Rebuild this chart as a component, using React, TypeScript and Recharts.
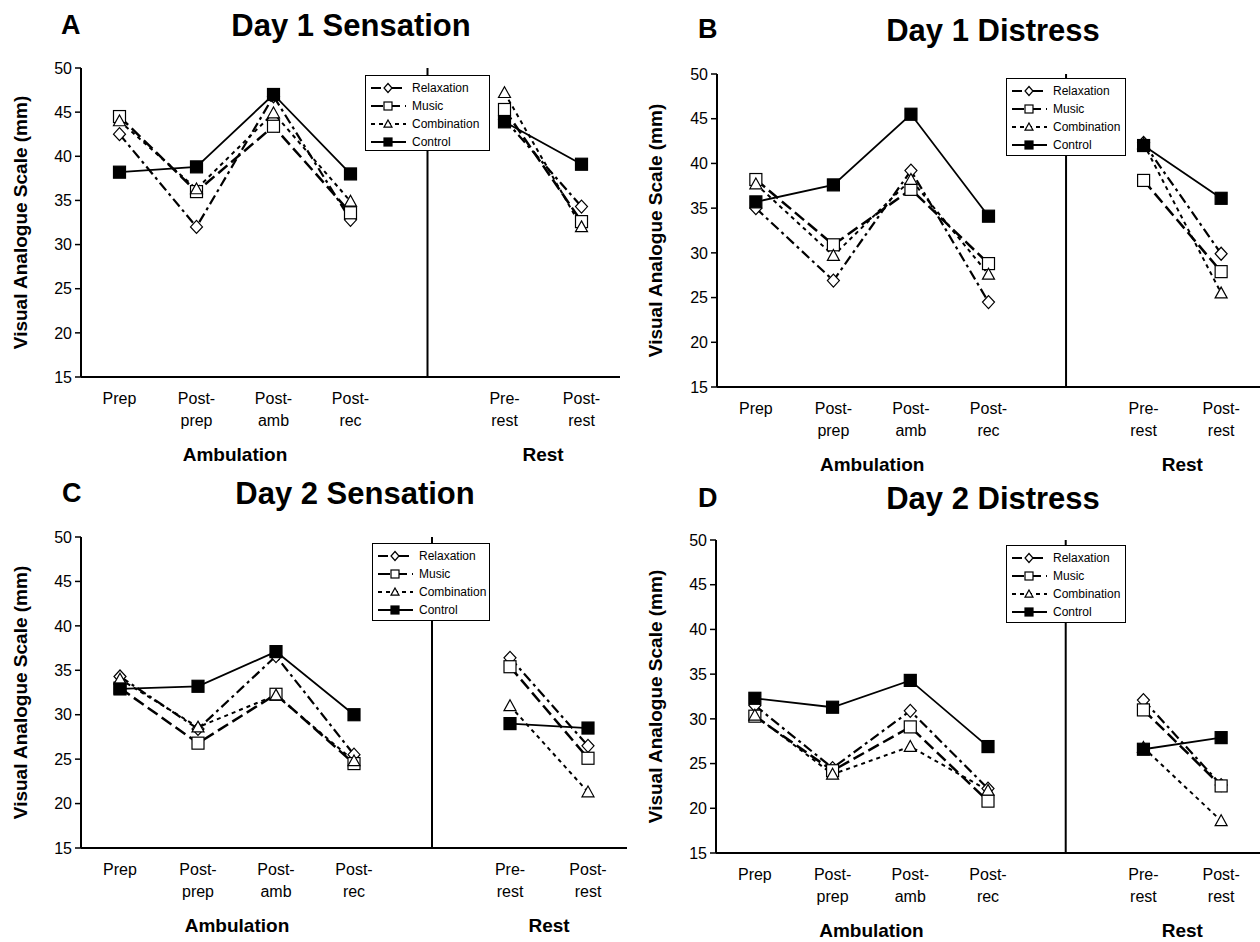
import React from "react";
import {
  LineChart,
  Line,
  XAxis,
  YAxis,
  ReferenceLine,
  ReferenceArea,
  Legend,
} from "recharts";

const FONT = '"Liberation Sans", Arial, Helvetica, sans-serif';

// x categories; "gap" is the empty slot where the Ambulation / Rest divider sits
const categories = ["Prep", "Post-prep", "Post-amb", "Post-rec", "gap", "Pre-rest", "Post-rest"];
const tickLabels = [["Prep"], ["Post-", "prep"], ["Post-", "amb"], ["Post-", "rec"], [], ["Pre-", "rest"], ["Post-", "rest"]];
const yTicks = [15, 20, 25, 30, 35, 40, 45, 50];
const seriesNames = ["Relaxation", "Music", "Combination", "Control"];

// Day 1 Sensation
const d1SensRelaxation = [42.5, 32.0, 46.8, 32.8, null, 44.2, 34.3];
const d1SensMusic = [44.5, 36.0, 43.4, 33.6, null, 45.3, 32.6];
const d1SensCombination = [44.0, 36.3, 44.9, 34.9, null, 47.2, 32.0];
const d1SensControl = [38.2, 38.8, 47.0, 38.0, null, 43.9, 39.1];

// Day 1 Distress
const d1DistRelaxation = [35.0, 26.9, 39.2, 24.5, null, 42.3, 29.9];
const d1DistMusic = [38.2, 30.9, 37.1, 28.8, null, 38.1, 27.9];
const d1DistCombination = [37.7, 29.7, 38.2, 27.6, null, 42.2, 25.5];
const d1DistControl = [35.7, 37.6, 45.5, 34.1, null, 42.0, 36.1];

// Day 2 Sensation
const d2SensRelaxation = [34.3, 28.4, 36.6, 25.5, null, 36.4, 26.5];
const d2SensMusic = [33.0, 26.8, 32.3, 24.5, null, 35.4, 25.1];
const d2SensCombination = [34.0, 28.6, 32.2, 24.8, null, 31.0, 21.3];
const d2SensControl = [32.9, 33.2, 37.1, 30.0, null, 29.0, 28.5];

// Day 2 Distress
const d2DistRelaxation = [31.5, 24.5, 30.9, 22.2, null, 32.1, 22.6];
const d2DistMusic = [30.3, 24.2, 29.1, 20.8, null, 31.0, 22.5];
const d2DistCombination = [30.4, 23.8, 26.9, 22.0, null, 26.8, 18.6];
const d2DistControl = [32.3, 31.3, 34.3, 26.9, null, 26.6, 27.9];

const seriesStyle = [
  { shape: "diamond", dash: "10 4 3 4", width: 2.2 },
  { shape: "square", dash: "12 5", width: 2.5 },
  { shape: "triangle", dash: "4 4", width: 2 },
  { shape: "filled", dash: undefined, width: 1.8 },
];

function buildRows(series: (number | null)[][]) {
  return categories.map((cat, i) => {
    const row: Record<string, any> = { cat };
    seriesNames.forEach((name, s) => (row[name] = series[s][i]));
    return row;
  });
}

// listed bottom row first so the top panels paint over any overlap
const panels = [
  {
    letter: "C",
    title: "Day 2 Sensation",
    rows: buildRows([d2SensRelaxation, d2SensMusic, d2SensCombination, d2SensControl]),
    left: 0, top: 470, plotX: 81, plotY: 537, plotW: 546, plotH: 311,
    legend: { x: 372, y: 73, w: 118, h: 78 },
    yLabelX: 20,
    letterPos: { x: 62, base: 503 },
    titlePos: { cx: 355, base: 504 },
  },
  {
    letter: "D",
    title: "Day 2 Distress",
    rows: buildRows([d2DistRelaxation, d2DistMusic, d2DistCombination, d2DistControl]),
    left: 630, top: 470, plotX: 716, plotY: 540, plotW: 544, plotH: 313,
    legend: { x: 376, y: 75, w: 120, h: 78 },
    yLabelX: 25,
    letterPos: { x: 698, base: 508 },
    titlePos: { cx: 993, base: 509 },
  },
  {
    letter: "A",
    title: "Day 1 Sensation",
    rows: buildRows([d1SensRelaxation, d1SensMusic, d1SensCombination, d1SensControl]),
    left: 0, top: 0, plotX: 81, plotY: 68, plotW: 539, plotH: 309,
    legend: { x: 365, y: 75, w: 125, h: 76 },
    yLabelX: 20,
    letterPos: { x: 61, base: 35 },
    titlePos: { cx: 351, base: 36 },
  },
  {
    letter: "B",
    title: "Day 1 Distress",
    rows: buildRows([d1DistRelaxation, d1DistMusic, d1DistCombination, d1DistControl]),
    left: 630, top: 0, plotX: 717, plotY: 74, plotW: 544, plotH: 313,
    legend: { x: 376, y: 78, w: 120, h: 78 },
    yLabelX: 25,
    letterPos: { x: 698, base: 39 },
    titlePos: { cx: 993, base: 41 },
  },
];

const CHART_W = 630;
const CHART_H = 480;

function Marker({ cx, cy, shape, size }: any) {
  if (cx == null || cy == null || Number.isNaN(cx) || Number.isNaN(cy)) return null;
  const s = size / 2;
  if (shape === "diamond") {
    return (
      <polygon
        points={`${cx},${cy - s - 0.5} ${cx + s},${cy} ${cx},${cy + s + 0.5} ${cx - s},${cy}`}
        fill="#fff"
        stroke="#000"
        strokeWidth={1.2}
      />
    );
  }
  if (shape === "triangle") {
    return (
      <polygon
        points={`${cx},${cy - s} ${cx + s},${cy + s * 0.8} ${cx - s},${cy + s * 0.8}`}
        fill="#fff"
        stroke="#000"
        strokeWidth={1.2}
      />
    );
  }
  return (
    <rect
      x={cx - s}
      y={cy - s}
      width={size}
      height={size}
      fill={shape === "filled" ? "#000" : "#fff"}
      stroke="#000"
      strokeWidth={1.2}
    />
  );
}

function XTick({ x, y, payload }: any) {
  const idx = categories.indexOf(payload.value);
  const lines = tickLabels[idx] || [];
  if (!lines.length) return <g />;
  return (
    <text x={x} y={y} textAnchor="middle" fontFamily={FONT} fontSize={16} fill="#000">
      {lines.map((l, i) => (
        <tspan key={i} x={x} dy={i === 0 ? 27 : 22}>
          {l}
        </tspan>
      ))}
    </text>
  );
}

function LegendBox({ box }: any) {
  return (
    <div
      style={{
        width: box.w,
        height: box.h,
        boxSizing: "border-box",
        background: "#fff",
        border: "1.5px solid #000",
        padding: "3px 0 0 4px",
        fontFamily: FONT,
        fontSize: 12,
        color: "#000",
      }}
    >
      {seriesNames.map((name, i) => (
        <div key={name} style={{ display: "flex", alignItems: "center", height: 18 }}>
          <svg width={38} height={14}>
            <line
              x1={1}
              x2={36}
              y1={7}
              y2={7}
              stroke="#000"
              strokeWidth={2}
              strokeDasharray={seriesStyle[i].dash}
            />
            <Marker cx={18} cy={7} shape={seriesStyle[i].shape} size={8} />
          </svg>
          <span style={{ marginLeft: 4 }}>{name}</span>
        </div>
      ))}
    </div>
  );
}

function Panel({ p }: any) {
  const marginTop = p.plotY - p.top;
  const yAxisW = p.plotX - p.left;
  const marginRight = Math.max(0, CHART_W - yAxisW - p.plotW);
  const xAxisH = CHART_H - marginTop - p.plotH;
  const pad = p.plotW / 14;
  const labelStyle = { fontSize: 19, fontWeight: "bold", fill: "#000", fontFamily: FONT };

  return (
    <div style={{ position: "absolute", left: p.left, top: p.top, width: CHART_W, height: CHART_H }}>
      <LineChart
        width={CHART_W}
        height={CHART_H}
        data={p.rows}
        margin={{ top: marginTop, right: marginRight, bottom: 0, left: 0 }}
      >
        <XAxis
          dataKey="cat"
          interval={0}
          height={xAxisH}
          padding={{ left: pad, right: pad }}
          tickSize={0}
          tickMargin={0}
          tickLine={false}
          axisLine={{ stroke: "#000", strokeWidth: 2 }}
          tick={<XTick />}
        />
        <XAxis
          xAxisId="top"
          orientation="top"
          dataKey="cat"
          height={0}
          padding={{ left: pad, right: pad }}
          tick={false}
          tickLine={false}
          axisLine={{ stroke: "#000", strokeWidth: 2 }}
        />
        <YAxis
          type="number"
          domain={[15, 50]}
          ticks={yTicks}
          width={yAxisW}
          interval={0}
          tickSize={6}
          tickMargin={3}
          tickLine={{ stroke: "#000", strokeWidth: 1.5 }}
          axisLine={{ stroke: "#000", strokeWidth: 2 }}
          tick={{ fill: "#000", fontSize: 16, fontFamily: FONT }}
          label={{
            value: "Visual Analogue Scale (mm)",
            angle: -90,
            position: "insideLeft",
            offset: p.yLabelX,
            style: { textAnchor: "middle" },
            ...labelStyle,
          }}
        />
        <YAxis
          yAxisId="right"
          orientation="right"
          type="number"
          domain={[15, 50]}
          width={0}
          tick={false}
          tickLine={false}
          axisLine={{ stroke: "#000", strokeWidth: 2 }}
        />
        <ReferenceArea
          x1="Prep"
          x2="Post-rec"
          ifOverflow="visible"
          fill="none"
          fillOpacity={0}
          stroke="none"
          label={{ value: "Ambulation", position: "bottom", offset: 71, ...labelStyle }}
        />
        <ReferenceArea
          x1="Pre-rest"
          x2="Post-rest"
          ifOverflow="visible"
          fill="none"
          fillOpacity={0}
          stroke="none"
          label={{ value: "Rest", position: "bottom", offset: 71, ...labelStyle }}
        />
        <ReferenceLine x="gap" stroke="#000" strokeWidth={2} />
        {seriesNames.map((name, i) => (
          <Line
            key={name}
            dataKey={name}
            stroke="#000"
            strokeWidth={seriesStyle[i].width}
            strokeDasharray={seriesStyle[i].dash}
            isAnimationActive={false}
            activeDot={false}
            dot={(d: any) => (
              <Marker
                key={`${name}-${d.index}`}
                cx={d.cx}
                cy={d.cy}
                shape={seriesStyle[i].shape}
                size={12}
              />
            )}
          />
        ))}
        <Legend
          layout="vertical"
          align="center"
          verticalAlign="middle"
          wrapperStyle={{ left: p.legend.x, top: p.legend.y, width: p.legend.w, height: p.legend.h }}
          content={() => <LegendBox box={p.legend} />}
        />
      </LineChart>
    </div>
  );
}

function Heading({ p }: any) {
  const letterSize = 27;
  const titleSize = 31;
  return (
    <>
      <div
        style={{
          position: "absolute",
          left: p.letterPos.x,
          top: p.letterPos.base - 0.8465 * letterSize,
          fontFamily: FONT,
          fontWeight: "bold",
          fontSize: letterSize,
          lineHeight: 1,
          color: "#000",
        }}
      >
        {p.letter}
      </div>
      <div
        style={{
          position: "absolute",
          left: p.titlePos.cx - 200,
          width: 400,
          textAlign: "center",
          top: p.titlePos.base - 0.8465 * titleSize,
          fontFamily: FONT,
          fontWeight: "bold",
          fontSize: titleSize,
          lineHeight: 1,
          color: "#000",
        }}
      >
        {p.title}
      </div>
    </>
  );
}

export default function App() {
  return (
    <div
      style={{
        position: "absolute",
        left: 0,
        top: 0,
        width: 1260,
        height: 942,
        overflow: "hidden",
        background: "#fff",
      }}
    >
      {panels.map((p) => (
        <Panel key={p.letter} p={p} />
      ))}
      {panels.map((p) => (
        <Heading key={p.letter} p={p} />
      ))}
    </div>
  );
}
